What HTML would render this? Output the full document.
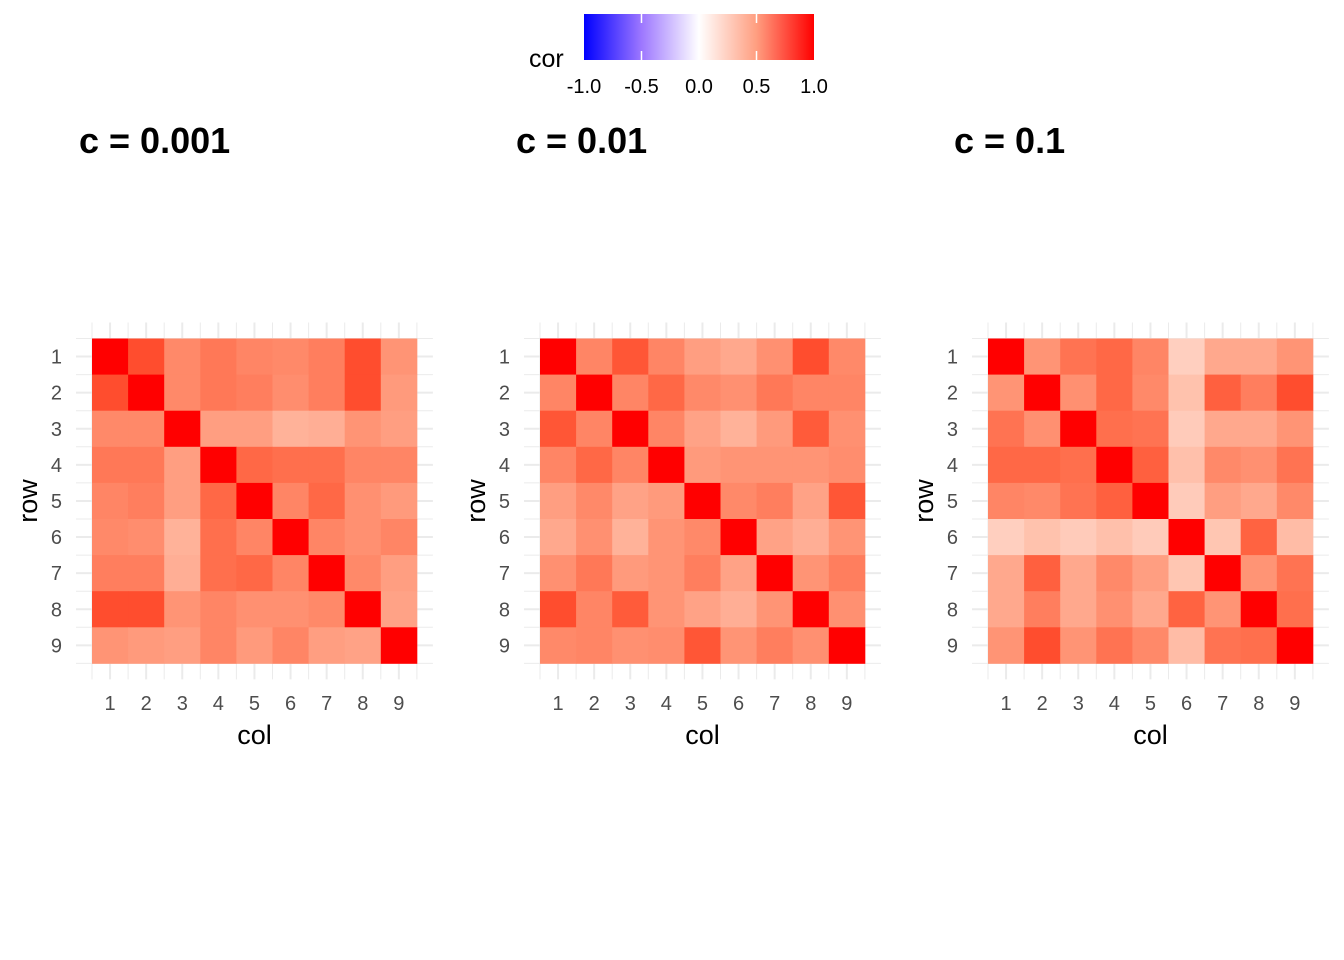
<!DOCTYPE html>
<html><head><meta charset="utf-8">
<style>
html,body{margin:0;padding:0;background:#fff;}
svg{display:block;font-family:"Liberation Sans",Arial,sans-serif;}
</style></head>
<body>
<svg id="chart" width="1344" height="960" viewBox="0 0 1344 960" xmlns="http://www.w3.org/2000/svg">
  <defs>
    <linearGradient id="lg" x1="0" x2="1" y1="0" y2="0">
      <stop offset="0" stop-color="#0000FF"/>
      <stop offset="0.25" stop-color="#9D77FF"/>
      <stop offset="0.5" stop-color="#FFFFFF"/>
      <stop offset="0.75" stop-color="#FF9E80"/>
      <stop offset="1" stop-color="#FF0000"/>
    </linearGradient>
  </defs>
  <g>
    <text x="529" y="67" font-size="25" fill="#000">cor</text>
    <rect x="584" y="14" width="230" height="46" fill="url(#lg)"/>
    <g id="legendTicks"></g>
  </g>
  <g id="panels"></g>
</svg>
<script>
const categories = [1,2,3,4,5,6,7,8,9];
const panelTitles = ["c = 0.001","c = 0.01","c = 0.1"];
const legendTickValues = [-1.0,-0.5,0.0,0.5,1.0];
const legendTickLabels = ["-1.0","-0.5","0.0","0.5","1.0"];
const corC001 = [
 [1,.85,.6,.68,.62,.6,.65,.85,.55],
 [.85,1,.6,.68,.65,.58,.65,.85,.52],
 [.6,.6,1,.5,.5,.4,.42,.55,.5],
 [.68,.68,.5,1,.75,.72,.72,.62,.62],
 [.62,.65,.5,.75,1,.62,.75,.57,.52],
 [.6,.58,.4,.72,.62,1,.62,.57,.62],
 [.65,.65,.42,.72,.75,.62,1,.6,.5],
 [.85,.85,.55,.62,.57,.57,.6,1,.48],
 [.55,.52,.5,.62,.52,.62,.5,.48,1]
];
const corC01 = [
 [1,.62,.82,.62,.5,.45,.57,.85,.6],
 [.62,1,.62,.75,.6,.57,.68,.62,.62],
 [.82,.62,1,.62,.48,.4,.52,.8,.57],
 [.62,.75,.62,1,.52,.55,.55,.55,.58],
 [.5,.6,.48,.52,1,.6,.65,.48,.82],
 [.45,.57,.4,.55,.6,1,.48,.42,.55],
 [.57,.68,.52,.55,.65,.48,1,.55,.65],
 [.85,.62,.8,.55,.48,.42,.55,1,.57],
 [.6,.62,.57,.58,.82,.55,.65,.57,1]
];
const corC1 = [
 [1,.55,.7,.75,.62,.25,.45,.45,.55],
 [.55,1,.57,.75,.6,.32,.78,.65,.85],
 [.7,.57,1,.72,.7,.27,.45,.45,.55],
 [.75,.75,.72,1,.78,.33,.6,.57,.7],
 [.62,.6,.7,.78,1,.27,.5,.45,.6],
 [.25,.32,.27,.33,.27,1,.3,.77,.35],
 [.45,.78,.45,.6,.5,.3,1,.55,.7],
 [.45,.65,.45,.57,.45,.77,.55,1,.72],
 [.55,.85,.55,.7,.6,.35,.7,.72,1]
];
const matrices = [corC001, corC01, corC1];

const NS="http://www.w3.org/2000/svg";
function mk(tag, attrs, parent){const e=document.createElementNS(NS,tag);for(const k in attrs)e.setAttribute(k,attrs[k]);if(parent)parent.appendChild(e);return e;}

// Lab interpolation white->red / white->blue
function toLin(c){c/=255;return c<=0.04045?c/12.92:Math.pow((c+0.055)/1.055,2.4);}
function fromLin(c){c=c<=0.0031308?12.92*c:1.055*Math.pow(c,1/2.4)-0.055;return Math.max(0,Math.min(255,Math.round(c*255)));}
function rgb2lab(r,g,b){r=toLin(r);g=toLin(g);b=toLin(b);
 let x=(r*0.4124+g*0.3576+b*0.1805)/0.95047,y=r*0.2126+g*0.7152+b*0.0722,z=(r*0.0193+g*0.1192+b*0.9505)/1.08883;
 const f=t=>t>0.008856?Math.cbrt(t):7.787*t+16/116;x=f(x);y=f(y);z=f(z);
 return [116*y-16,500*(x-y),200*(y-z)];}
function lab2rgb(L,a,b){let y=(L+16)/116,x=a/500+y,z=y-b/200;
 const fi=t=>t*t*t>0.008856?t*t*t:(t-16/116)/7.787;x=fi(x)*0.95047;y=fi(y);z=fi(z)*1.08883;
 const r=x*3.2406+y*-1.5372+z*-0.4986,g=x*-0.9689+y*1.8758+z*0.0415,bb=x*0.0557+y*-0.2040+z*1.0570;
 return `rgb(${fromLin(r)},${fromLin(g)},${fromLin(bb)})`;}
const W=rgb2lab(255,255,255),R=rgb2lab(255,0,0),B=rgb2lab(0,0,255);
function colorScale(v){const t=Math.min(1,Math.abs(v));const T=v>=0?R:B;
 return lab2rgb(W[0]+(T[0]-W[0])*t,W[1]+(T[1]-W[1])*t,W[2]+(T[2]-W[2])*t);}

// legend
const lx0=584,lx1=814;
const lxs=v=>lx0+(v+1)/2*(lx1-lx0);
const lt=document.getElementById('legendTicks');
legendTickValues.forEach((v,i)=>{
  if(i>0&&i<legendTickValues.length-1){
    const a=mk('line',{x1:lxs(v),x2:lxs(v),y1:14,y2:23,stroke:'#fff','stroke-width':1.5},lt);
    
    
    const b=mk('line',{x1:lxs(v),x2:lxs(v),y1:51,y2:60,stroke:'#fff','stroke-width':1.5},lt);
    
    
  }
  const t=mk('text',{x:lxs(v),y:93,'font-size':20,'text-anchor':'middle',fill:'#000'},lt);
  
  
  t.textContent=legendTickLabels[i];
});

const panels=document.getElementById('panels');
const offsets=[0,448,896];
const cell=36.1, gx0=92, gy0=338.5;
matrices.forEach((M,p)=>{
  const g=mk('g',{},panels);
  
  
  const ox=offsets[p];
  const xs=c=>ox+gx0+(c-0.5)*cell;   // center of category c
  const ys=r=>gy0+(r-0.5)*cell;
  const n=categories.length;
  const left=ox+gx0-16, right=ox+gx0+n*cell+16, top=gy0-16, bot=gy0+n*cell+16;
  // gridlines
  for(let k=0;k<=n;k++){
    const x=ox+gx0+k*cell,y=gy0+k*cell;
    const a=mk('line',{x1:x,x2:x,y1:top,y2:bot,stroke:'#ebebeb','stroke-width':1},g);
    
    
    const b=mk('line',{x1:left,x2:right,y1:y,y2:y,stroke:'#ebebeb','stroke-width':1},g);
    
    
  }
  categories.forEach(c=>{
    const a=mk('line',{x1:xs(c),x2:xs(c),y1:top,y2:bot,stroke:'#ebebeb','stroke-width':2},g);
    
    
    const b=mk('line',{x1:left,x2:right,y1:ys(c),y2:ys(c),stroke:'#ebebeb','stroke-width':2},g);
    
    
  });
  // cells
  M.forEach((row,ri)=>row.forEach((v,ci)=>{
    const r=mk('rect',{x:xs(categories[ci])-cell/2,y:ys(categories[ri])-cell/2,width:cell+0.4,height:cell+0.4,fill:colorScale(v)},g);
    
    
  }));
  // tick labels
  categories.forEach(c=>{
    const t=mk('text',{x:xs(c),y:710,'font-size':20,'text-anchor':'middle',fill:'#4d4d4d'},g);
    
    
    t.textContent=c;
    const u=mk('text',{x:ox+62,y:ys(c)+7,'font-size':20,'text-anchor':'end',fill:'#4d4d4d'},g);
    
    
    u.textContent=c;
  });
  const xt=mk('text',{x:ox+gx0+n*cell/2,y:744,'font-size':27,'text-anchor':'middle',fill:'#000'},g);
  
  
  xt.textContent='col';
  const yt=mk('text',{x:0,y:0,'font-size':27,'text-anchor':'middle',fill:'#000',transform:`translate(${ox+37},${gy0+n*cell/2}) rotate(-90)`},g);
  
  
  yt.textContent='row';
  const tt=mk('text',{x:ox+79+(p===1?-11:p===2?-21:0),y:153,'font-size':36,'font-weight':'bold',fill:'#000'},g);
  
  
  tt.textContent=panelTitles[p];
});
</script>
</body></html>
